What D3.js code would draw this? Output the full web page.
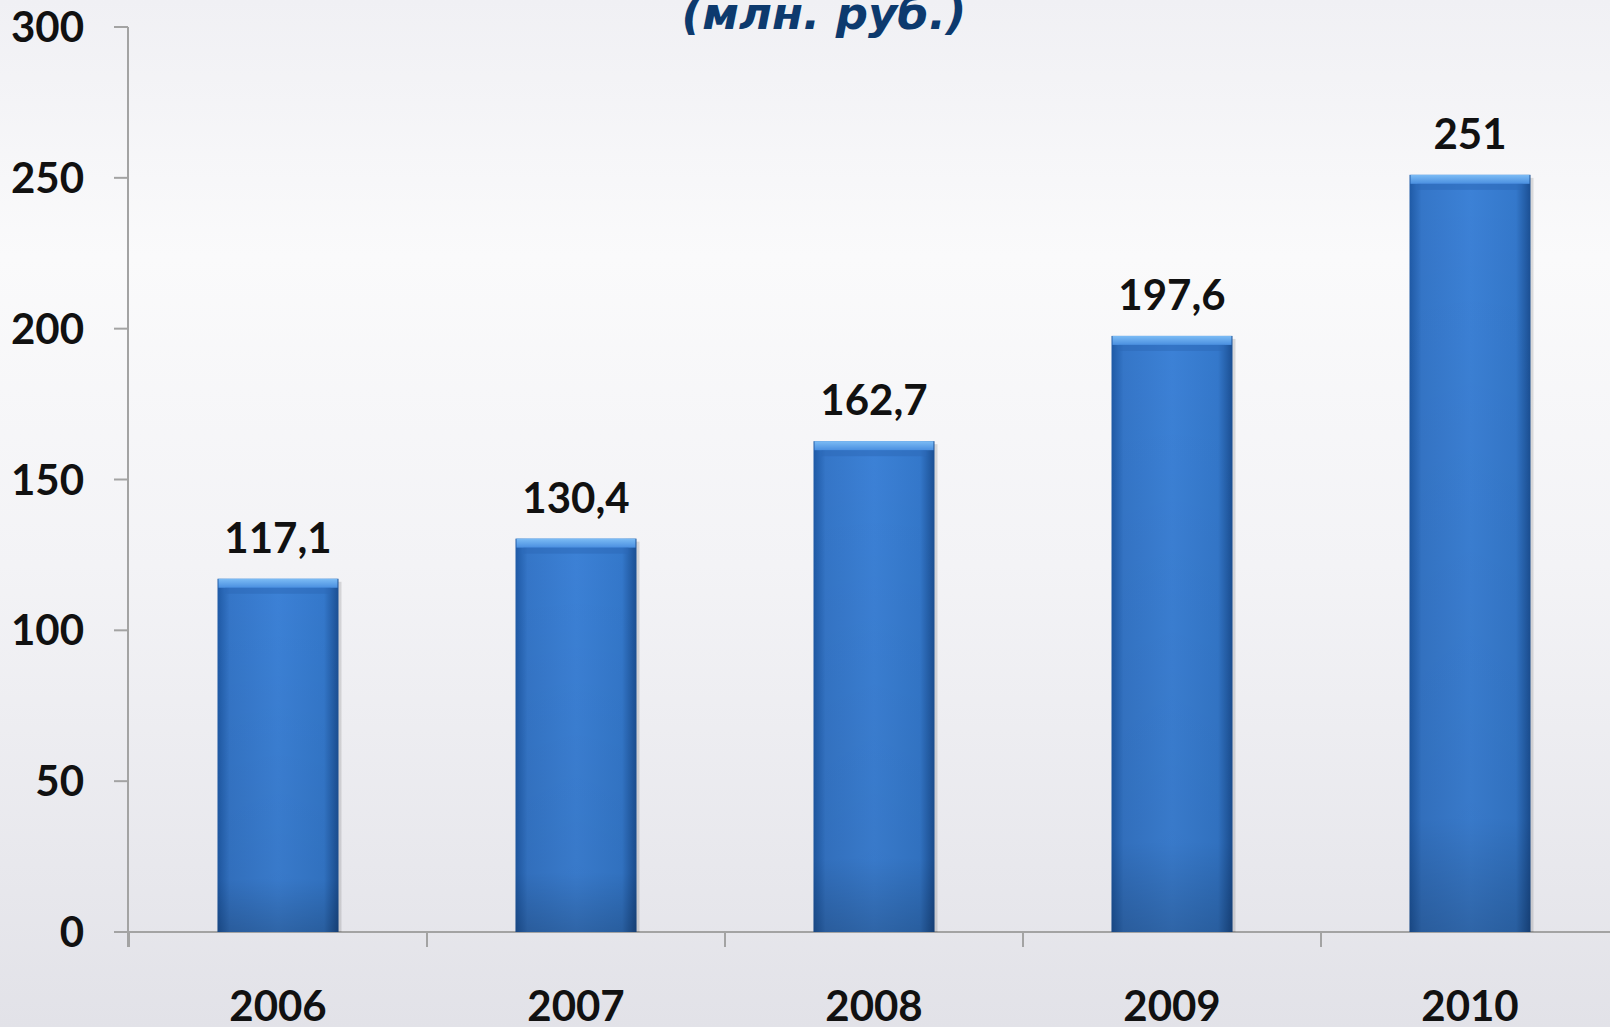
<!DOCTYPE html>
<html><head><meta charset="utf-8">
<script src="https://cdn.jsdelivr.net/npm/d3@7"></script>
<style>html,body{margin:0;padding:0;overflow:hidden;}svg{display:block;}</style>
</head><body>
<svg id="c" width="1610" height="1027"></svg>
<script>
const years = ["2006","2007","2008","2009","2010"];
const values = [117.1, 130.4, 162.7, 197.6, 251];
const valueLabels = ["117,1","130,4","162,7","197,6","251"];
const yTicks = [0,50,100,150,200,250,300];
const titleText = "(млн. руб.)";

const W = 1610, H = 1027;
const svg = d3.select("#c");
const defs = svg.append("defs");

const bg = defs.append("linearGradient").attr("id","bg").attr("x1",0).attr("y1",0).attr("x2",0).attr("y2",1);
bg.append("stop").attr("offset","0%").attr("stop-color","#f0f0f4");
bg.append("stop").attr("offset","25%").attr("stop-color","#fafafb");
bg.append("stop").attr("offset","55%").attr("stop-color","#f3f3f6");
bg.append("stop").attr("offset","100%").attr("stop-color","#e2e2e8");
svg.append("rect").attr("width",W).attr("height",H).attr("fill","url(#bg)");

const bh = defs.append("linearGradient").attr("id","barH").attr("x1",0).attr("y1",0).attr("x2",1).attr("y2",0);
bh.append("stop").attr("offset","0%").attr("stop-color","#1f5aa6");
bh.append("stop").attr("offset","10%").attr("stop-color","#3576c8");
bh.append("stop").attr("offset","50%").attr("stop-color","#3c81d6");
bh.append("stop").attr("offset","88%").attr("stop-color","#3478cb");
bh.append("stop").attr("offset","100%").attr("stop-color","#1b4f93");

const bv = defs.append("linearGradient").attr("id","barV").attr("x1",0).attr("y1",0).attr("x2",0).attr("y2",1);
bv.append("stop").attr("offset","0%").attr("stop-color","#000").attr("stop-opacity",0);
bv.append("stop").attr("offset","85%").attr("stop-color","#000").attr("stop-opacity",0.06);
bv.append("stop").attr("offset","100%").attr("stop-color","#000").attr("stop-opacity",0.22);

const bt = defs.append("linearGradient").attr("id","barT").attr("x1",0).attr("y1",0).attr("x2",0).attr("y2",1);
bt.append("stop").attr("offset","0%").attr("stop-color","#7cbcf5");
bt.append("stop").attr("offset","100%").attr("stop-color","#4a8fe0");

const y = d3.scaleLinear().domain([0,300]).range([932,27]);
const x = d3.scaleBand().domain(years).range([129,1619]).paddingInner(0.594).paddingOuter(0.297);

const axisColor = "#a3a3a3";
const font = "Lato, 'Open Sans', sans-serif";
const fs = 42;
const g = svg.append("g");

g.append("line").attr("x1",128).attr("x2",128).attr("y1",y(300)).attr("y2",y(0)+15)
  .attr("stroke",axisColor).attr("stroke-width",2);
g.selectAll(".yt").data(yTicks).join("line")
  .attr("x1",114).attr("x2",128).attr("y1",d=>y(d)).attr("y2",d=>y(d))
  .attr("stroke",axisColor).attr("stroke-width",2);
g.selectAll(".yl").data(yTicks).join("text")
  .attr("x",84).attr("y",d=>y(d)).attr("dy","0.36em")
  .attr("text-anchor","end").attr("font-family",font)
  .attr("font-weight","bold").attr("font-size",fs).attr("fill","#111")
  .text(d=>d);

g.append("line").attr("x1",114).attr("x2",W).attr("y1",y(0)).attr("y2",y(0))
  .attr("stroke",axisColor).attr("stroke-width",2);
const gap = (x.step()-x.bandwidth())/2;
const bounds = years.map(d=>x(d)-gap).concat([x(years[years.length-1])+x.bandwidth()+gap]);
g.selectAll(".xt").data(bounds).join("line")
  .attr("x1",d=>d).attr("x2",d=>d).attr("y1",y(0)).attr("y2",y(0)+15)
  .attr("stroke",axisColor).attr("stroke-width",2);

const bars = g.selectAll(".bar").data(years).join("g");
bars.append("rect").attr("x",d=>x(d)+3).attr("y",(d,i)=>y(values[i])+3)
  .attr("width",x.bandwidth()).attr("height",(d,i)=>y(0)-y(values[i])-3)
  .attr("fill","#000").attr("opacity",0.12);
bars.append("rect").attr("x",d=>x(d)).attr("y",(d,i)=>y(values[i]))
  .attr("width",x.bandwidth()).attr("height",(d,i)=>y(0)-y(values[i]))
  .attr("fill","url(#barH)");
bars.append("rect").attr("x",d=>x(d)).attr("y",(d,i)=>y(values[i]))
  .attr("width",x.bandwidth()).attr("height",(d,i)=>y(0)-y(values[i]))
  .attr("fill","url(#barV)");
bars.append("rect").attr("x",d=>x(d)+1).attr("y",(d,i)=>y(values[i]))
  .attr("width",x.bandwidth()-2).attr("height",9)
  .attr("fill","url(#barT)");
bars.append("rect").attr("x",d=>x(d)+8).attr("y",(d,i)=>y(values[i])+9)
  .attr("width",x.bandwidth()-16).attr("height",6)
  .attr("fill","#2c68b6").attr("opacity",0.5);

g.selectAll(".vl").data(years).join("text")
  .attr("x",d=>x(d)+x.bandwidth()/2).attr("y",(d,i)=>y(values[i])-26)
  .attr("text-anchor","middle").attr("font-family",font)
  .attr("font-weight","bold").attr("font-size",fs).attr("fill","#111")
  .text((d,i)=>valueLabels[i]);

g.selectAll(".xl").data(years).join("text")
  .attr("x",d=>x(d)+x.bandwidth()/2).attr("y",1021)
  .attr("text-anchor","middle").attr("font-family",font)
  .attr("font-weight","bold").attr("font-size",fs).attr("fill","#111")
  .text(d=>d);

svg.append("text").attr("x",824).attr("y",29).attr("text-anchor","middle")
  .attr("font-family","'DejaVu Sans', sans-serif").attr("font-weight","bold")
  .attr("font-style","italic").attr("font-size",45).attr("fill","#0d3a6e")
  .text(titleText);
</script>
</body></html>
